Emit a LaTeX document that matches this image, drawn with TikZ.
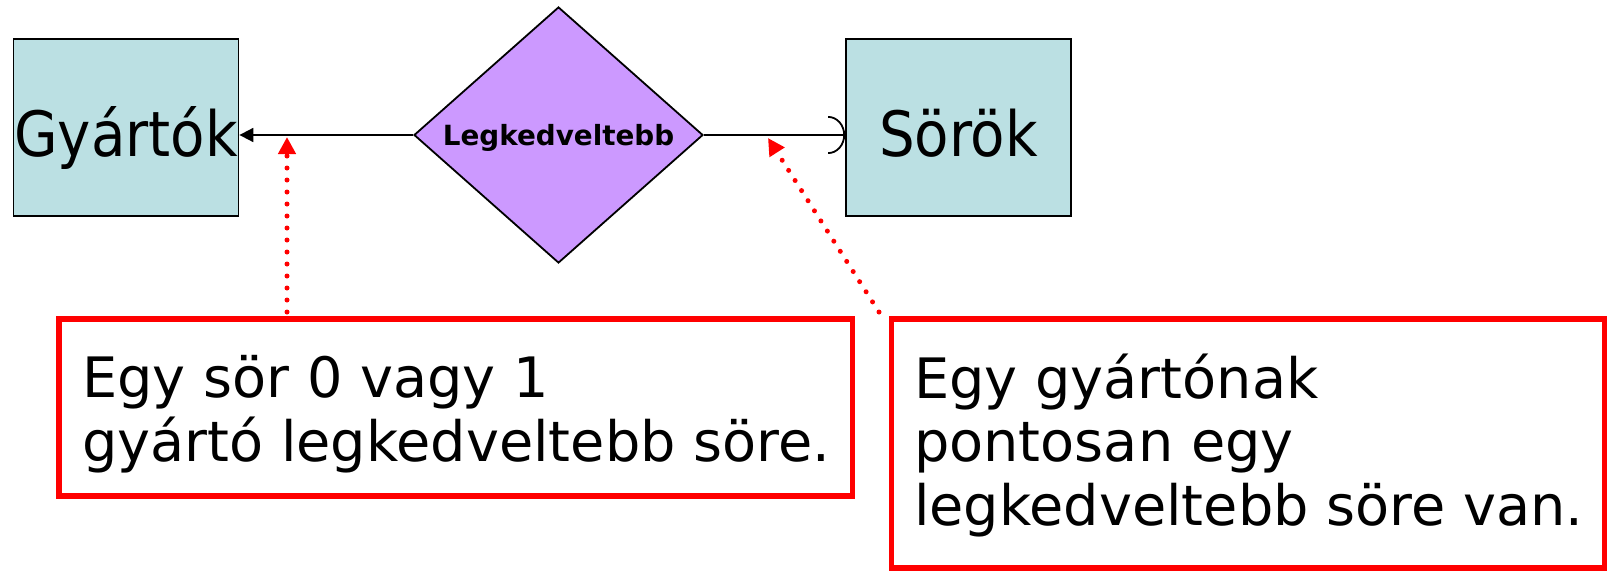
\documentclass[tikz,border=0pt]{standalone}
\usepackage{fontspec}
\setmainfont{DejaVu Sans}
\newfontfamily\entfont{DejaVu Sans Condensed}
\usetikzlibrary{arrows.meta,shapes.geometric}
\definecolor{entfill}{HTML}{BBE0E3}
\definecolor{relfill}{HTML}{CC99FF}
\begin{document}
\begin{tikzpicture}[x=1pt,y=1pt]
\useasboundingbox (0,0) rectangle (1607,-573);
\tikzset{
  entity/.style={draw=black, line width=1.8, fill=entfill, minimum width=225, minimum height=177, inner sep=0, text height=57, text depth=0, font=\entfont\fontsize{62.5}{70}\selectfont},
  rel/.style={diamond, draw=black, line width=1.8, fill=relfill, minimum width=289, minimum height=256, inner sep=0, text height=20.5, text depth=0, font=\bfseries\fontsize{27.8}{30}\selectfont},
  note/.style={draw=red, line width=5.5, anchor=north west, inner sep=0, outer sep=0},
  notetext/.style={anchor=base west, inner sep=0, align=left, font=\fontsize{55.7}{63.5}\selectfont},
  conn/.style={line width=1.8},
  hint/.style={red, line width=5, line cap=round, dash pattern=on 0pt off 12pt, -{Triangle[length=17,width=17]}}
}
\node[entity] (gy) at (126,-127.5) {Gyártók};
\node[entity] (so) at (958.5,-127.5) {Sörök};
\node[rel] (leg) at (558.5,-135) {Legkedveltebb};
\node[note, minimum width=793.5, minimum height=177] (n1) at (59,-319) {};
\node[note, minimum width=713.5, minimum height=249] (n2) at (891.5,-319) {};
\node[notetext] (t1) at (82,-461) {Egy sör 0 vagy 1\\gyártó legkedveltebb söre.};
\node[notetext] (t2) at (914,-525) {Egy gyártónak\\pontosan egy\\legkedveltebb söre van.};
\draw[conn, -{Triangle[length=14,width=14]}] (leg.west) -- (leg.west -| gy.east);
\draw[conn, -{Arc Barb[length=17,width=38,line width=1.8]}] (leg.east) -- (leg.east -| so.west);
\coordinate (c1) at (287,-137);
\coordinate (c2) at (768,-138);
\coordinate (s2) at (879,-312);
\draw[hint] (c1 |- n1.north) ++(0,7) -- (c1);
\draw[hint] (s2) -- (c2);
\end{tikzpicture}
\end{document}
